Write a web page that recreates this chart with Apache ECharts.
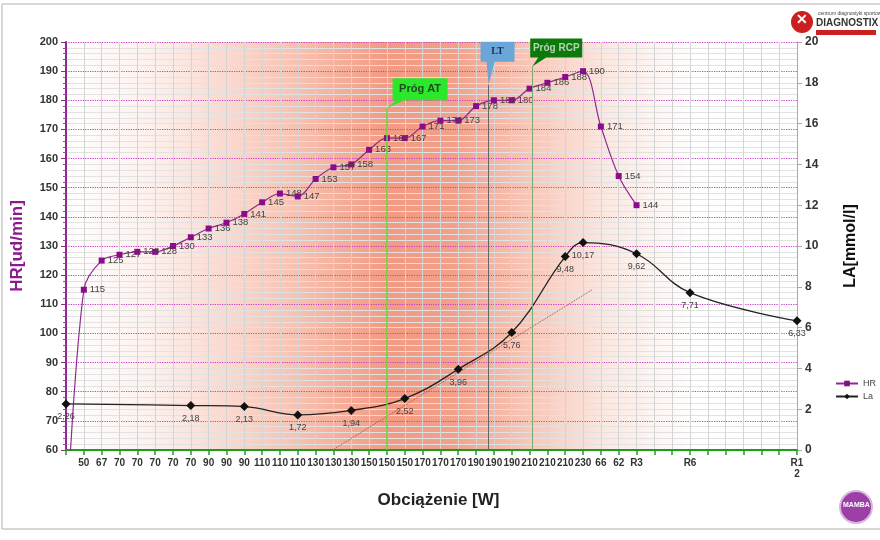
<!DOCTYPE html>
<html>
<head>
<meta charset="utf-8">
<script src="https://cdn.jsdelivr.net/npm/echarts@6/dist/echarts.min.js"></script>
<style>
  html, body { margin: 0; padding: 0; background: #fff; }
  #MyChart { width: 880px; height: 540px; }
</style>
</head>
<body>
<div id="MyChart"></div>
<script>
// kategorie osi X (obciążenie)
const loadLabels = ["", "50", "67", "70", "70", "70", "70", "70", "90", "90", "90",
  "110", "110", "110", "130", "130", "130", "150", "150", "150", "170", "170", "170",
  "190", "190", "190", "210", "210", "210", "230", "66", "62", "R3", "", "", "R6",
  "", "", "", "", "", "R1\n2"];

// tętno - pierwszy punkt jest poniżej osi (60)
const hrValues = [30, 115, 125, 127, 128, 128, 130, 133, 136, 138, 141, 145, 148, 147,
  153, 157, 158, 163, 167, 167, 171, 173, 173, 178, 180, 180, 184, 186, 188, 190,
  171, 154, 144];

// mleczan - tylko w punktach pomiaru
const laValues = [2.26, null, null, null, null, null, null, 2.18, null, null, 2.13,
  null, null, 1.72, null, null, 1.94, null, null, 2.52, null, null, 3.96, null, null,
  5.76, null, null, 9.48, 10.17, null, null, 9.62, null, null, 7.71, null, null, null,
  null, null, 6.33];

// linia trendu (indeks kategorii, LA)
const trendLine = [[14.95, 0], [29.5, 7.85]];

// progi: pozycja na osi X (indeks) i wysokość linii w jednostkach LA
const thresholds = [
  { name: "Próg AT", x: 17.98, top: 16.75 },
  { name: "LT", x: 23.7, top: 17.9 },
  { name: "Próg RCP", x: 26.15, top: 18.8 },
];

const myChart = echarts.init(document.getElementById("MyChart"));

const option = {
  animation: false,
  textStyle: { fontFamily: "Liberation Sans, Arial, sans-serif" },
  grid: {
    left: 66,
    right: 83,
    top: 42,
    bottom: 90,
    outerBoundsMode: "none",
    containLabel: false,
    show: true,
    borderWidth: 0,
    // czerwone pole w tle
    backgroundColor: new echarts.graphic.LinearGradient(0, 0, 1, 0, [
      { offset: 0, color: "#ffffff" },
      { offset: 0.12, color: "#fdf0ec" },
      { offset: 0.3, color: "#f8c6b7" },
      { offset: 0.44, color: "#f29a83" },
      { offset: 0.53, color: "#f39f89" },
      { offset: 0.63, color: "#f7c6b7" },
      { offset: 0.74, color: "#fbe8e2" },
      { offset: 0.86, color: "#ffffff" },
      { offset: 1, color: "#ffffff" },
    ]),
  },
  legend: {
    orient: "vertical",
    left: 830,
    top: 374,
    itemWidth: 22,
    itemHeight: 7,
    itemGap: 4,
    textStyle: { fontSize: 9, color: "#444" },
    data: ["HR", "La"],
  },
  xAxis: [
    {
      type: "category",
      data: loadLabels,
      boundaryGap: false,
      name: "Obciążenie [W]",
      nameLocation: "middle",
      nameGap: 42,
      nameTextStyle: { fontSize: 17, fontWeight: "bold", color: "#222", padding: [0, 0, 0, 14] },
      axisLine: { lineStyle: { color: "#1c9e1c", width: 2 } },
      axisTick: { interval: 0, length: 5, lineStyle: { color: "#1c9e1c", width: 1.5 } },
      axisLabel: {
        interval: 0,
        fontSize: 10,
        fontWeight: "bold",
        color: "#333",
        margin: 8,
        lineHeight: 11,
      },
      splitLine: { show: true, interval: 0, lineStyle: { color: "#d4d4d4", width: 1 } },
    },
    {
      // pomocnicza oś liczbowa dla trendu i progów
      type: "value",
      min: 0,
      max: 41,
      show: false,
      splitLine: { show: false },
    },
  ],
  yAxis: [
    {
      type: "value",
      min: 60,
      max: 200,
      interval: 10,
      name: "HR[ud/min]",
      nameLocation: "middle",
      nameGap: 40,
      nameRotate: 90,
      nameTextStyle: { fontSize: 17, fontWeight: "bold", color: "#8b1a8b" },
      axisLine: { show: true, lineStyle: { color: "#8e2a8e", width: 2 } },
      axisTick: { show: true, length: 5, lineStyle: { color: "#8e2a8e" } },
      minorTick: { show: true, splitNumber: 5, length: 3, lineStyle: { color: "#a040a0" } },
      axisLabel: { fontSize: 11, fontWeight: "bold", color: "#333" },
      splitLine: { lineStyle: { color: "#c23ec2", type: "dotted", width: 1.2 } },
      minorSplitLine: { show: true, lineStyle: { color: "#e2e2e2", width: 1 } },
    },
    {
      type: "value",
      min: 0,
      max: 20,
      interval: 2,
      name: "LA[mmol/l]",
      nameLocation: "middle",
      nameGap: 46,
      nameRotate: 90,
      nameTextStyle: { fontSize: 16, fontWeight: "bold", color: "#111" },
      axisLine: { show: true, lineStyle: { color: "#aaa", width: 1 } },
      axisTick: { show: true, length: 5, lineStyle: { color: "#aaa" } },
      axisLabel: { fontSize: 12, fontWeight: "bold", color: "#333" },
      splitLine: { show: false },
    },
  ],
  series: [
    {
      name: "HR",
      type: "line",
      xAxisIndex: 0,
      yAxisIndex: 0,
      smooth: 0.35,
      clip: true,
      symbol: "rect",
      symbolSize: 6,
      itemStyle: { color: "#8a0c8a" },
      lineStyle: { color: "#8e2a8e", width: 1.2 },
      label: { show: true, position: "right", distance: 3, fontSize: 9.5, color: "#444" },
      data: hrValues.map((v, i) =>
        i === 0 ? { value: v, symbol: "none", label: { show: false } } : v
      ),
      z: 4,
    },
    {
      name: "La",
      type: "line",
      xAxisIndex: 0,
      yAxisIndex: 1,
      smooth: 0.4,
      connectNulls: true,
      symbol: "diamond",
      symbolSize: 9,
      itemStyle: { color: "#111" },
      lineStyle: { color: "#222", width: 1.3 },
      label: {
        show: true,
        position: "bottom",
        distance: 4,
        fontSize: 9,
        color: "#444",
        formatter: (p) => String(p.value).replace(".", ","),
      },
      data: laValues,
      z: 4,
    },
    {
      name: "trend",
      type: "line",
      xAxisIndex: 1,
      yAxisIndex: 1,
      symbol: "none",
      silent: true,
      lineStyle: { color: "#a0524a", type: "dotted", width: 1 },
      data: trendLine,
      markLine: {
        silent: true,
        symbol: "none",
        label: { show: false },
        data: thresholds.map((t, i) => [
          {
            coord: [t.x, 0],
            lineStyle: {
              color: i === 0 ? "#55dd33" : i === 1 ? "#666" : "#7aa870",
              width: i === 0 ? 1.5 : 1,
              type: "solid",
            },
          },
          { coord: [t.x, t.top] },
        ]),
      },
      markPoint: {
        silent: true,
        data: [
          {
            coord: [thresholds[0].x, thresholds[0].top],
            symbol: "path://M6,0 L61,0 L61,22 L18,22 L0,30 L10,22 L6,22 Z",
            symbolSize: [61, 30],
            symbolOffset: [30.5, -15],
            itemStyle: { color: "#2be82b" },
            label: {
              formatter: thresholds[0].name,
              offset: [3, -4],
              fontSize: 11,
              fontWeight: "bold",
              color: "#1d4d1d",
            },
          },
          {
            coord: [thresholds[1].x, thresholds[1].top],
            symbol: "path://M0,0 L34,0 L34,20 L14,20 L8,43 L6,20 L0,20 Z",
            symbolSize: [34, 43],
            symbolOffset: [9, -21.5],
            itemStyle: { color: "#6aa6d8" },
            label: {
              formatter: thresholds[1].name,
              offset: [0, -11.5],
              fontSize: 10,
              fontWeight: "bold",
              fontFamily: "Liberation Serif, serif",
              color: "#1d2d4d",
            },
          },
          {
            coord: [thresholds[2].x, thresholds[2].top],
            symbol: "path://M0,0 L52,0 L52,19 L16,19 L2,28 L8,19 L0,19 Z",
            symbolSize: [52, 28],
            symbolOffset: [24, -14],
            itemStyle: { color: "#0b7a0b" },
            label: {
              formatter: thresholds[2].name,
              offset: [0, -4.5],
              fontSize: 10,
              fontWeight: "bold",
              color: "#b8d4b8",
            },
          },
        ],
      },
      z: 3,
    },
  ],
  graphic: [
    // ramka
    {
      type: "rect",
      shape: { x: 2, y: 4, width: 900, height: 525 },
      style: { fill: "none", stroke: "#b0b0b0", lineWidth: 1 },
      silent: true,
    },
    // logo DIAGNOSTIX
    {
      type: "circle",
      shape: { cx: 802, cy: 22, r: 11 },
      style: { fill: "#cc1f1f" },
      silent: true,
    },
    {
      type: "text",
      left: 796,
      top: 13,
      style: { text: "✕", fontSize: 14, fontWeight: "bold", fill: "#fff" },
      silent: true,
    },
    {
      type: "text",
      left: 818,
      top: 11,
      style: { text: "centrum diagnostyki sportowej", fontSize: 5, fill: "#444" },
      silent: true,
    },
    {
      type: "text",
      left: 816,
      top: 18,
      style: { text: "DIAGNOSTIX", fontSize: 10, fontWeight: "bold", fill: "#333" },
      silent: true,
    },
    {
      type: "rect",
      shape: { x: 816, y: 30, width: 60, height: 5 },
      style: { fill: "#cc1f1f" },
      silent: true,
    },
    // logo MAMBA
    {
      type: "circle",
      shape: { cx: 856, cy: 507, r: 16 },
      style: { fill: "#9c3fa6", stroke: "#d9b6de", lineWidth: 2 },
      silent: true,
    },
    {
      type: "text",
      left: 843,
      top: 502,
      style: { text: "MAMBA", fontSize: 7, fontWeight: "bold", fill: "#fff" },
      silent: true,
    },
  ],
};

myChart.setOption(option);
</script>
</body>
</html>
